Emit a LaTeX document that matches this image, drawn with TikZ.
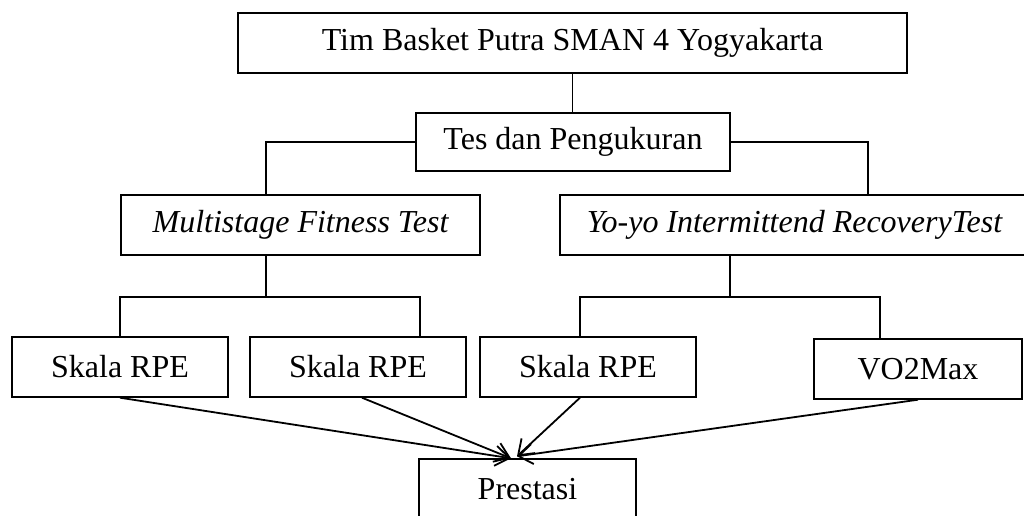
\documentclass[tikz,border=0pt]{standalone}
\usepackage{fontspec}
\setmainfont{Liberation Serif}
\usetikzlibrary{calc,arrows.meta}
\tikzset{
	box/.style = {draw, line width = .7pt, minimum height = 30pt, inner sep = 0, font = \fontsize{16}{19}\selectfont},
	link/.style = {line width = .9pt},
	toward/.style = {line width = .9pt, -{Straight Barb[length = 7pt, width = 10pt]}}
}
\begin{document}
\begin{tikzpicture}[x = .5pt, y = -.5pt]
	\useasboundingbox (0, 0) rectangle (1024, 515);
	\node [box, minimum width = 334.5pt] (team) at (572.5, 43) {Tim Basket Putra SMAN 4 Yogyakarta};
	\node [box, minimum width = 157pt, minimum height = 29pt] (tes) at (573, 142) {Tes dan Pengukuran};
	\node [box, minimum width = 179.5pt] (mft) at (300.5, 225) {\itshape Multistage Fitness Test};
	\node [box, minimum width = 234.5pt] (yoyo) at (794.5, 225) {\itshape Yo-yo Intermittend RecoveryTest};
	\foreach \n/\x/\y/\w/\t in {s1/120/367/108/Skala RPE, s2/358/367/108/Skala RPE, s3/588/367/108/Skala RPE, vo/918/369/104/VO2Max}{
		\node [box, minimum width = \w pt] (\n) at (\x, \y) {\t};
	};
	\node [box, minimum width = 108.5pt] (hasil) at (527.5, 489) {Prestasi};
	\coordinate (mj) at (266, 297);
	\coordinate (yj) at (730, 297);
	\draw [link] (team.south) -- (team.south |- tes.north);
	\draw [link] (tes.west) -| (mj |- mft.north);
	\draw [link] (tes.east) -| ($(yoyo.north) + (73.5, 0)$);
	\draw [link] (mj |- mft.south) -- (mj);
	\draw [link] (yj |- yoyo.south) -- (yj);
	\draw [link] (s1.north) |- (mj) -| ($(s2.north) + (62, 0)$);
	\draw [link] ($(s3.north) + (-8, 0)$) |- (yj) -| ($(vo.north) + (-38, 0)$);
	\coordinate (tipL) at ($(hasil.north) + (-16.5, 0)$);
	\coordinate (tipR) at ($(hasil.north) + (-10.5, -2)$);
	\draw [toward] (s1.south) -- (tipL);
	\draw [toward] ($(s2.south) + (4, 0)$) -- (tipL);
	\draw [toward] ($(s3.south) + (-8, 0)$) -- (tipR);
	\draw [toward] (vo.south) -- (tipR);
\end{tikzpicture}
\end{document}
